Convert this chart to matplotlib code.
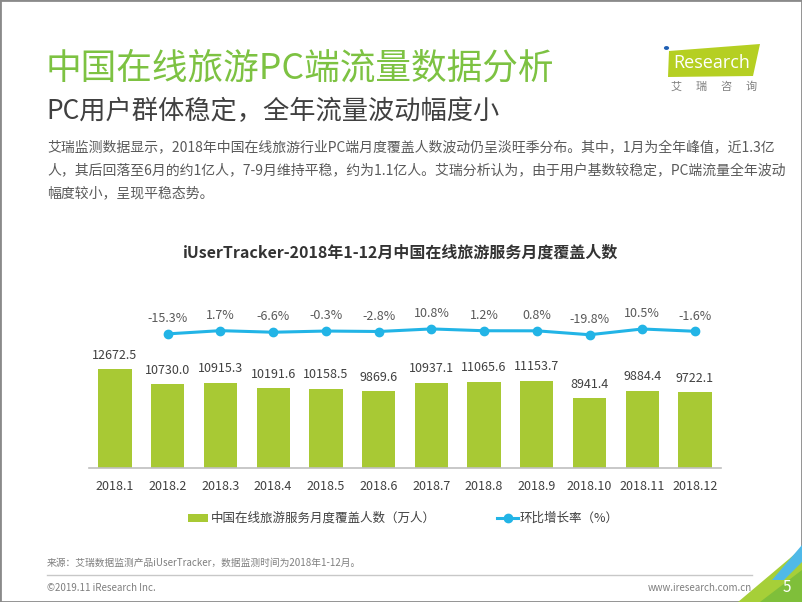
import matplotlib
matplotlib.use("Agg")
import matplotlib.pyplot as plt
from matplotlib.patches import Polygon, Rectangle, Circle
from matplotlib.lines import Line2D

plt.rcParams['font.family'] = ['Noto Sans CJK SC', 'DejaVu Sans']

months = ['2018.1', '2018.2', '2018.3', '2018.4', '2018.5', '2018.6',
          '2018.7', '2018.8', '2018.9', '2018.10', '2018.11', '2018.12']
users = [12672.5, 10730.0, 10915.3, 10191.6, 10158.5, 9869.6,
         10937.1, 11065.6, 11153.7, 8941.4, 9884.4, 9722.1]
growth_months = months[1:]
growth = [-15.3, 1.7, -6.6, -0.3, -2.8, 10.8, 1.2, 0.8, -19.8, 10.5, -1.6]

bar_color = '#a8c934'
line_color = '#22b4e6'
title_green = '#7dc242'

W, H = 802, 602
fig = plt.figure(figsize=(W / 100, H / 100), dpi=100)

def fx(x):
    return x / W

def fy(y):
    return 1 - y / H

# frame border
fig.patches.append(Rectangle((0, 0), 1, 1, transform=fig.transFigure, fill=False,
                             edgecolor='#8a8a8a', linewidth=2.0))

# Titles
fig.text(fx(46), fy(68), '中国在线旅游PC端流量数据分析', color=title_green, fontsize=25.7,
         va='center', ha='left')
fig.text(fx(46), fy(112), 'PC用户群体稳定，全年流量波动幅度小', color='#404040', fontsize=18.9,
         va='center', ha='left')

para = ['艾瑞监测数据显示，2018年中国在线旅游行业PC端月度覆盖人数波动仍呈淡旺季分布。其中，1月为全年峰值，近1.3亿',
        '人，其后回落至6月的约1亿人，7-9月维持平稳，约为1.1亿人。艾瑞分析认为，由于用户基数较稳定，PC端流量全年波动',
        '幅度较小，呈现平稳态势。']
for i, line in enumerate(para):
    fig.text(fx(47), fy(147 + 23 * i), line, color='#595959', fontsize=10, va='center', ha='left')

# Logo
fig.patches.append(Polygon([(fx(669), fy(51)), (fx(760), fy(44)), (fx(753), fy(76)), (fx(668), fy(77))],
                           closed=True, transform=fig.transFigure, facecolor='#b5cf22', edgecolor='none'))
fig.text(fx(673), fy(63), 'Research', color='white', fontsize=13, va='center', ha='left',
         family=['Open Sans', 'DejaVu Sans'])
fig.patches.append(Circle((fx(666.5), fy(48)), 2.6 / W, transform=fig.transFigure,
                          facecolor='#1f5fb4', edgecolor='none'))
for k, ch in enumerate('艾瑞咨询'):
    fig.text(fx(676 + 25 * k), fy(87), ch, color='#7f7f7f', fontsize=8, va='center', ha='center')

# Chart title
fig.text(fx(401), fy(253), 'iUserTracker-2018年1-12月中国在线旅游服务月度覆盖人数', color='#333333',
         fontsize=11.5, fontweight='bold', va='center', ha='center')

# Axes
ax_left, ax_right, ax_bottom, ax_top = 88.6, 721.4, 468, 300
ax = fig.add_axes([fx(ax_left), fy(ax_bottom), (ax_right - ax_left) / W, (ax_bottom - ax_top) / H])
x = list(range(len(months)))
ax.bar(x, users, width=0.63, color=bar_color, zorder=2)
ax.set_xlim(-0.5, 11.5)
ax.set_ylim(0, 21510)
for xi, v in zip(x, users):
    ax.annotate(f'{v:.1f}', (xi, v), xytext=(0, 10), textcoords='offset points',
                ha='center', va='center', fontsize=9, color='#404040')
ax.set_xticks(x)
ax.set_xticklabels(months, fontsize=9, color='#404040')
ax.tick_params(axis='x', length=0, pad=9)
ax.set_yticks([])
for s in ['top', 'right', 'left']:
    ax.spines[s].set_visible(False)
ax.spines['bottom'].set_color('#bfbfbf')
ax.spines['bottom'].set_linewidth(1.2)
ax.patch.set_alpha(0)

ax2 = ax.twinx()
gx = [months.index(m) for m in growth_months]
ax2.plot(gx, growth, color=line_color, linewidth=2.2, marker='o', markersize=6, zorder=3)
ax2.set_ylim(-721, 163)
for xi, v in zip(gx, growth):
    ax2.annotate(f'{v:.1f}%', (xi, v), xytext=(0, 11), textcoords='offset points',
                 ha='center', va='center', fontsize=9, color='#595959')
ax2.set_yticks([])
for s in ['top', 'right', 'left', 'bottom']:
    ax2.spines[s].set_visible(False)

# Legend (manual)
fig.patches.append(Rectangle((fx(188), fy(522)), 20 / W, 8 / H, transform=fig.transFigure,
                             facecolor=bar_color, edgecolor='none'))
fig.text(fx(211), fy(518), '中国在线旅游服务月度覆盖人数（万人）', fontsize=9, color='#404040',
         va='center', ha='left')
fig.lines.append(Line2D([fx(497), fx(518)], [fy(518), fy(518)], transform=fig.transFigure,
                        color=line_color, linewidth=2.2))
fig.lines.append(Line2D([fx(507.5)], [fy(518)], transform=fig.transFigure, color=line_color,
                        marker='o', markersize=6))
fig.text(fx(520), fy(518), '环比增长率（%）', fontsize=9, color='#404040', va='center', ha='left')

# Footer
fig.text(fx(47), fy(563), '来源：艾瑞数据监测产品iUserTracker，数据监测时间为2018年1-12月。', fontsize=7,
         color='#7f7f7f', va='center', ha='left')
fig.lines.append(Line2D([fx(47), fx(752)], [fy(575), fy(575)], transform=fig.transFigure,
                        color='#c8c8c8', linewidth=1.0))
fig.text(fx(47), fy(588), '©2019.11 iResearch Inc.', fontsize=7, color='#7f7f7f', va='center', ha='left')
fig.text(fx(752), fy(588), 'www.iresearch.com.cn', fontsize=7, color='#7f7f7f', va='center', ha='right')

# corner decoration
fig.patches.append(Polygon([(fx(738), fy(602)), (fx(802), fy(548)), (fx(802), fy(602))], closed=True,
                           transform=fig.transFigure, facecolor='#a6cf38', edgecolor='none'))
fig.patches.append(Polygon([(fx(772), fy(580)), (fx(802), fy(545)), (fx(802), fy(562)), (fx(784), fy(580))],
                           closed=True, transform=fig.transFigure, facecolor='#4fb9e8', edgecolor='none'))
fig.patches.append(Polygon([(fx(760), fy(602)), (fx(802), fy(570)), (fx(802), fy(602))], closed=True,
                           transform=fig.transFigure, facecolor='#7fbf3a', edgecolor='none'))
fig.text(fx(787), fy(588), '5', fontsize=11, color='white', va='center', ha='center')

fig.savefig('out.png', dpi=100)
